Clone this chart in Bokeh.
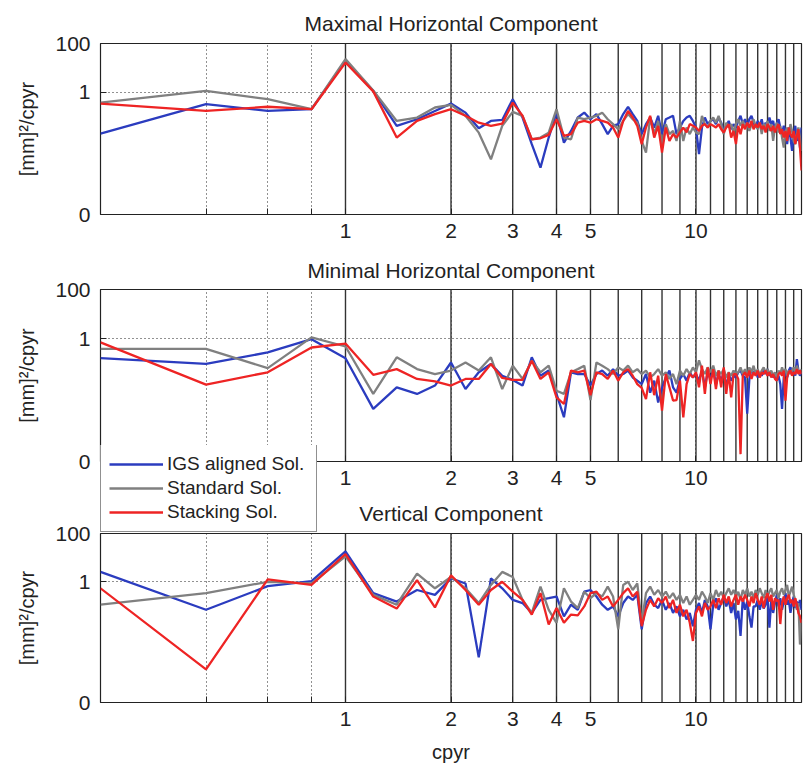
import numpy as np
from bokeh.plotting import figure
from bokeh.layouts import column
from bokeh.models import FixedTicker, Span, Legend, LegendItem, Range1d
from bokeh.embed import file_html
from bokeh.resources import INLINE

# Frequency grid (cycles per year), resolution 0.2 cpyr
freq = [0.2, 0.4, 0.6, 0.8, 1.0, 1.2, 1.4, 1.6, 1.8, 2.0,
        2.2, 2.4, 2.6, 2.8, 3.0, 3.2, 3.4, 3.6, 3.8, 4.0,
        4.2, 4.4, 4.6, 4.8, 5.0, 5.2, 5.4, 5.6, 5.8, 6.0,
        6.2, 6.4, 6.6, 6.8, 7.0, 7.2, 7.4, 7.6, 7.8, 8.0,
        8.2, 8.4, 8.6, 8.8, 9.0, 9.2, 9.4, 9.6, 9.8, 10.0,
        10.2, 10.4, 10.6, 10.8, 11.0, 11.2, 11.4, 11.6, 11.8, 12.0,
        12.2, 12.4, 12.6, 12.8, 13.0, 13.2, 13.4, 13.6, 13.8, 14.0,
        14.2, 14.4, 14.6, 14.8, 15.0, 15.2, 15.4, 15.6, 15.8, 16.0,
        16.2, 16.4, 16.6, 16.8, 17.0, 17.2, 17.4, 17.6, 17.8, 18.0,
        18.2, 18.4, 18.6, 18.8, 19.0, 19.2, 19.4, 19.6, 19.8, 20.0]

# Power spectral densities, stored as log10 of [mm]^2/cpyr
max_igs = [-1.69, -0.48, -0.76, -0.69, 1.29, 0.06, -1.37, -1.10, -0.76, -0.46,
           -0.83, -1.47, -1.17, -1.13, -0.28, -1.03, -2.12, -3.08, -1.85, -0.83,
           -2.06, -1.58, -1.03, -0.83, -1.10, -0.89, -1.30, -1.71, -1.37, -1.30,
           -0.89, -0.59, -0.89, -1.17, -1.71, -1.30, -1.03, -1.44, -0.96, -1.71,
           -1.10, -1.03, -0.96, -1.71, -1.44, -1.17, -1.03, -0.96, -1.17, -1.44,
           -2.53, -1.44, -1.03, -1.30, -1.17, -1.10, -1.30, -1.03, -1.24, -1.58,
           -1.37, -1.17, -1.51, -1.30, -1.44, -1.17, -0.96, -1.30, -1.10, -1.37,
           -1.10, -0.96, -1.24, -1.44, -1.17, -1.37, -1.10, -1.51, -1.24, -1.44,
           -1.03, -1.30, -1.17, -1.58, -1.30, -1.10, -1.44, -1.71, -1.37, -1.58,
           -2.12, -1.44, -1.85, -2.40, -1.71, -1.37, -1.99, -1.58, -2.26, -1.44]
max_std = [-0.42, 0.06, -0.28, -0.69, 1.36, 0.08, -1.17, -1.03, -0.62, -0.51,
           -0.96, -1.65, -2.74, -1.37, -0.80, -0.96, -1.92, -1.85, -1.65, -0.69,
           -1.85, -1.92, -1.03, -1.10, -1.03, -0.96, -0.83, -1.10, -1.30, -1.51,
           -1.17, -0.89, -1.10, -1.24, -1.99, -2.47, -1.03, -1.71, -1.17, -2.26,
           -1.30, -1.71, -1.58, -1.99, -1.17, -1.99, -1.44, -1.71, -1.44, -1.64,
           -1.71, -0.96, -1.30, -1.44, -1.17, -1.03, -1.24, -0.96, -1.30, -1.71,
           -1.24, -1.44, -1.30, -1.64, -1.30, -1.10, -1.37, -1.17, -1.44, -1.24,
           -1.58, -1.30, -1.10, -1.37, -1.51, -1.24, -1.71, -1.30, -1.44, -1.17,
           -1.58, -1.30, -1.99, -1.44, -1.24, -1.64, -1.37, -1.85, -2.26, -1.64,
           -1.44, -1.71, -1.30, -1.58, -1.99, -2.12, -1.71, -1.44, -1.85, -2.40]
max_stack = [-0.46, -0.76, -0.59, -0.69, 1.22, 0.04, -1.85, -1.17, -0.89, -0.69,
             -0.96, -1.24, -1.37, -1.28, -0.42, -0.96, -1.92, -1.88, -1.74, -1.10,
             -1.78, -1.71, -1.24, -1.17, -1.24, -1.10, -1.17, -1.24, -1.44, -1.85,
             -1.17, -0.76, -1.03, -1.37, -2.12, -1.44, -0.96, -1.85, -1.37, -2.47,
             -1.44, -1.99, -1.71, -1.85, -1.64, -1.44, -1.64, -1.30, -1.37, -1.44,
             -1.58, -1.37, -1.30, -1.44, -1.30, -1.37, -1.44, -1.30, -1.51, -1.64,
             -1.44, -1.30, -1.85, -1.58, -2.12, -1.37, -1.71, -1.30, -1.51, -1.24,
             -1.44, -1.17, -1.51, -1.30, -1.44, -1.24, -1.51, -1.37, -1.64, -1.30,
             -1.44, -1.58, -1.37, -1.64, -1.44, -1.30, -1.71, -1.51, -1.85, -1.58,
             -1.99, -1.44, -1.71, -1.85, -1.58, -2.12, -1.78, -1.51, -2.26, -3.20]

min_igs = [-0.79, -1.03, -0.56, -0.02, -0.80, -2.86, -1.98, -2.25, -1.91, -0.97,
           -2.05, -1.37, -1.03, -1.51, -1.68, -1.91, -0.76, -1.51, -1.30, -2.25,
           -3.20, -1.37, -1.44, -1.44, -1.90, -1.44, -1.30, -1.51, -1.24, -1.51,
           -1.44, -1.30, -1.58, -1.71, -1.85, -1.44, -2.20, -1.71, -2.60, -2.00,
           -1.58, -1.30, -1.98, -2.20, -1.64, -1.44, -1.71, -1.37, -1.58, -1.44,
           -1.71, -1.30, -1.98, -1.37, -1.64, -1.24, -1.85, -1.44, -1.71, -1.37,
           -1.98, -1.44, -1.71, -1.51, -1.58, -1.37, -1.30, -1.51, -1.58, -3.05,
           -1.64, -1.24, -1.44, -1.30, -1.58, -1.37, -1.51, -1.30, -1.44, -1.24,
           -1.51, -1.37, -1.58, -1.44, -1.71, -1.51, -1.85, -2.86, -1.58, -1.37,
           -1.58, -1.30, -1.17, -1.44, -1.24, -1.51, -0.83, -1.30, -1.51, -1.37]
min_std = [-0.42, -0.42, -1.20, 0.05, -0.32, -2.25, -0.76, -1.24, -1.44, -1.30,
           -0.97, -1.30, -0.76, -2.05, -1.10, -1.64, -0.90, -1.37, -1.10, -2.12,
           -2.25, -1.37, -1.24, -1.10, -2.50, -0.97, -1.10, -1.24, -1.44, -1.17,
           -1.30, -1.10, -1.37, -1.24, -1.44, -1.30, -1.58, -1.44, -1.24, -1.51,
           -1.37, -1.64, -1.44, -1.85, -1.30, -1.51, -1.24, -1.44, -1.17, -1.37,
           -0.88, -1.24, -1.44, -1.17, -1.37, -1.10, -1.51, -1.30, -1.44, -1.24,
           -1.58, -1.37, -1.51, -1.30, -1.44, -1.37, -1.17, -1.44, -1.24, -1.51,
           -1.17, -1.37, -1.10, -1.44, -1.24, -1.51, -1.30, -1.17, -1.37, -1.24,
           -1.44, -1.30, -1.51, -1.37, -1.58, -1.30, -1.44, -1.17, -1.37, -1.24,
           -1.51, -1.30, -1.44, -1.30, -1.17, -1.37, -1.10, -1.30, -1.44, -1.24]
min_stack = [-0.15, -1.87, -1.37, -0.36, -0.20, -1.47, -1.24, -1.64, -1.74, -1.91,
             -1.64, -1.64, -1.03, -1.60, -1.68, -1.68, -0.90, -1.64, -1.37, -2.39,
             -2.66, -1.30, -1.37, -1.30, -2.30, -1.37, -1.44, -1.64, -1.30, -1.71,
             -1.37, -1.24, -1.51, -1.85, -2.00, -2.46, -1.37, -2.30, -1.51, -2.93,
             -1.44, -1.98, -2.52, -2.50, -1.71, -3.20, -1.85, -1.44, -1.58, -1.37,
             -1.98, -1.10, -2.25, -1.17, -1.85, -1.24, -2.05, -1.30, -1.98, -1.17,
             -2.25, -1.37, -2.39, -1.44, -1.44, -1.64, -4.70, -1.51, -1.37, -1.58,
             -1.30, -1.64, -1.37, -1.51, -1.30, -1.58, -1.37, -1.44, -1.30, -1.51,
             -1.37, -1.58, -1.44, -1.64, -1.71, -1.44, -1.37, -1.51, -1.30, -2.52,
             -1.58, -1.37, -1.30, -1.51, -1.37, -1.44, -1.24, -1.44, -1.30, -1.44]

vert_igs = [0.41, -1.16, -0.18, 0.03, 1.26, -0.47, -0.82, -0.34, -0.54, 0.14,
            -0.07, -3.13, 0.14, -0.27, -0.75, -0.88, -1.29, -0.75, -0.68, -0.61,
            -1.43, -0.95, -1.16, -0.41, -0.34, -0.61, -0.95, -1.16, -1.02, -1.43,
            -0.88, -0.61, -0.75, -0.54, -1.97, -0.88, -0.61, -0.95, -1.09, -0.75,
            -1.16, -0.88, -1.29, -1.02, -1.43, -1.16, -1.56, -1.29, -1.84, -1.16,
            -0.88, -1.29, -0.75, -1.02, -1.97, -0.95, -0.68, -1.16, -0.88, -0.61,
            -1.02, -0.75, -1.29, -0.88, -1.56, -1.20, -2.24, -0.68, -1.16, -0.82,
            -1.43, -1.90, -1.02, -1.02, -0.75, -1.16, -0.82, -1.10, -0.95, -0.61,
            -1.90, -0.75, -1.29, -0.88, -0.54, -1.02, -0.68, -1.16, -0.82, -0.47,
            -0.95, -0.75, -1.29, -0.88, -0.61, -1.09, -0.82, -1.02, -0.75, -1.16]
vert_std = [-0.95, -0.47, 0.00, -0.07, 1.05, -0.54, -0.95, 0.34, -0.27, 0.20,
            -0.27, -0.88, -0.13, 0.41, 0.20, -0.75, -1.29, -0.20, -1.16, -1.70,
            -0.27, -0.82, -1.09, -0.41, -0.68, -0.47, -0.61, -0.20, -0.61, -1.97,
            -0.13, 0.00, -0.34, -0.07, -1.70, -0.47, -0.20, -0.54, -0.34, -0.61,
            -0.41, -0.68, -0.47, -0.75, -0.54, -0.88, -0.61, -0.95, -0.75, -0.54,
            -0.75, -0.41, -0.61, -0.88, -0.47, -0.75, -0.34, -0.61, -0.41, -0.68,
            -0.47, -0.27, -0.54, -0.34, -0.61, -0.41, -0.75, -0.34, -0.54, -0.27,
            -0.61, -0.41, -0.68, -0.34, -0.54, -0.27, -0.47, -0.68, -0.34, -0.61,
            -0.41, -0.27, -0.61, -0.47, -0.34, -0.68, -0.41, -0.27, -0.54, -0.34,
            -0.13, -0.61, -0.41, -0.20, -0.54, -0.75, -1.16, -0.88, -2.60, -1.56]
vert_stack = [-0.27, -3.63, 0.10, -0.13, 1.15, -0.61, -1.11, 0.07, -1.06, 0.27,
              -0.34, -0.95, -0.34, 0.00, -0.41, -0.75, -1.36, -0.47, -1.77, -1.09,
              -1.70, -1.36, -1.39, -1.02, -0.47, -0.41, -0.75, -0.61, -1.02, -0.75,
              -0.47, -0.27, -0.61, -0.41, -1.84, -1.16, -0.75, -1.02, -0.68, -0.88,
              -0.61, -1.09, -0.75, -1.29, -0.95, -1.43, -1.16, -1.70, -2.45, -1.29,
              -1.02, -1.43, -0.88, -1.16, -1.02, -0.75, -1.09, -0.68, -0.95, -0.54,
              -0.88, -0.61, -1.02, -0.75, -0.54, -0.95, -0.61, -0.82, -0.54, -0.75,
              -1.02, -0.61, -0.88, -0.47, -0.75, -0.95, -0.61, -1.09, -0.68, -0.47,
              -0.82, -0.54, -1.16, -0.68, -0.80, -0.75, -1.75, -0.88, -0.61, -0.95,
              -0.68, -0.54, -0.88, -0.75, -1.02, -0.68, -0.95, -1.29, -1.43, -1.70]

# Axis ticks and reference lines
x_major = [1, 2, 3, 4, 5, 10]
x_minor = [0.4, 0.6, 0.8]
y_ticks = [1e-5, 1, 100]
y_tick_labels = {1e-5: "0", 1: "1", 100: "100"}
harmonics = list(range(1, 20))

solutions = ["IGS aligned Sol.", "Standard Sol.", "Stacking Sol."]
colors = ["#2b3cbf", "#808080", "#ee2424"]

FONT = "Liberation Sans"
INK = "#222222"


def make_panel(title, series, height, top, bottom, standoff=17, xlabel=None):
    p = figure(width=806, height=height, x_axis_type="log", y_axis_type="log",
               x_range=Range1d(0.2, 20), y_range=Range1d(1e-5, 100),
               output_backend="svg", toolbar_location=None,
               min_border_left=100, min_border_right=5,
               min_border_top=top, min_border_bottom=bottom,
               background_fill_color="white", border_fill_color=None,
               outline_line_color=INK, outline_line_width=1.2,
               title=title)
    p.title.text_font = FONT
    p.title.text_font_size = "21px"
    p.title.text_font_style = "normal"
    p.title.text_color = INK
    p.title.align = "center"
    p.title.standoff = standoff

    xa = p.xaxis[0]
    xa.ticker = FixedTicker(ticks=x_major, minor_ticks=x_minor)
    xa.axis_line_color = None
    xa.major_tick_in = 6
    xa.major_tick_out = 0
    xa.minor_tick_in = 6
    xa.minor_tick_out = 0
    xa.major_tick_line_color = INK
    xa.minor_tick_line_color = INK
    xa.major_label_text_font = FONT
    xa.major_label_text_font_size = "21px"
    xa.major_label_text_color = INK
    xa.major_label_standoff = 9
    if xlabel:
        xa.axis_label = xlabel
        xa.axis_label_text_font = FONT
        xa.axis_label_text_font_size = "20px"
        xa.axis_label_text_font_style = "normal"
        xa.axis_label_text_color = INK
        xa.axis_label_standoff = 12

    ya = p.yaxis[0]
    ya.ticker = FixedTicker(ticks=y_ticks)
    ya.major_label_overrides = y_tick_labels
    ya.axis_line_color = None
    ya.major_tick_in = 6
    ya.major_tick_out = 0
    ya.minor_tick_line_color = None
    ya.major_tick_line_color = INK
    ya.major_label_text_font = FONT
    ya.major_label_text_font_size = "21px"
    ya.major_label_text_color = INK
    ya.major_label_standoff = 10
    ya.axis_label = "[mm]\u00b2/cpyr"
    ya.axis_label_text_font = FONT
    ya.axis_label_text_font_size = "20px"
    ya.axis_label_text_font_style = "normal"
    ya.axis_label_text_color = INK
    ya.axis_label_standoff = 14

    for g in (p.xgrid[0], p.ygrid[0]):
        g.grid_line_color = INK
        g.grid_line_dash = "1 3"
        g.grid_line_width = 1
    p.xgrid[0].minor_grid_line_color = INK
    p.xgrid[0].minor_grid_line_dash = "1 3"

    # solid markers at the annual harmonics
    for h in harmonics:
        p.add_layout(Span(location=h, dimension="height", line_color="#333333",
                          line_width=1.4, level="underlay"))

    for vals, color in zip(series, colors):
        p.line(freq, 10.0 ** np.array(vals), line_color=color, line_width=2.3)
    return p


p1 = make_panel("Maximal Horizontal Component", [max_igs, max_std, max_stack],
                height=248, top=43, bottom=34)
p2 = make_panel("Minimal Horizontal Component", [min_igs, min_std, min_stack],
                height=252, top=41, bottom=39, standoff=15)
p3 = make_panel("Vertical Component", [vert_igs, vert_std, vert_stack],
                height=275, top=43, bottom=61, xlabel="cpyr")

# Transparent strip carrying the key; it straddles the lower-left corner of the
# middle panel.  Each key line holds a single sample, so it draws nothing itself.
key = figure(width=806, height=88, output_backend="svg", toolbar_location=None,
             x_axis_location=None, y_axis_location=None, min_border=0,
             outline_line_color=None, background_fill_color=None,
             border_fill_color=None)
key.grid.visible = False
key_series = [min_igs, min_std, min_stack]
key_lines = [key.line(freq[:1], vals[:1], line_color=c, line_width=2.3)
             for vals, c in zip(key_series, colors)]
legend = Legend(items=[LegendItem(label=lab, renderers=[r])
                       for lab, r in zip(solutions, key_lines)],
                location=(0, 1), margin=0, padding=8, spacing=2,
                glyph_width=54, glyph_height=20, label_height=20, label_width=141,
                label_standoff=4, label_text_font=FONT, label_text_font_size="19px",
                label_text_color=INK,
                border_line_color=INK, border_line_width=1.2,
                background_fill_color="white", background_fill_alpha=1.0)
key.add_layout(legend, "center")
key.margin = (-55, 0, 0, 0)
p3.margin = (-43, 0, 0, 0)

layout = column(p1, p2, key, p3, spacing=0)

with open("out.html", "w") as f:
    f.write(file_html(layout, INLINE))
